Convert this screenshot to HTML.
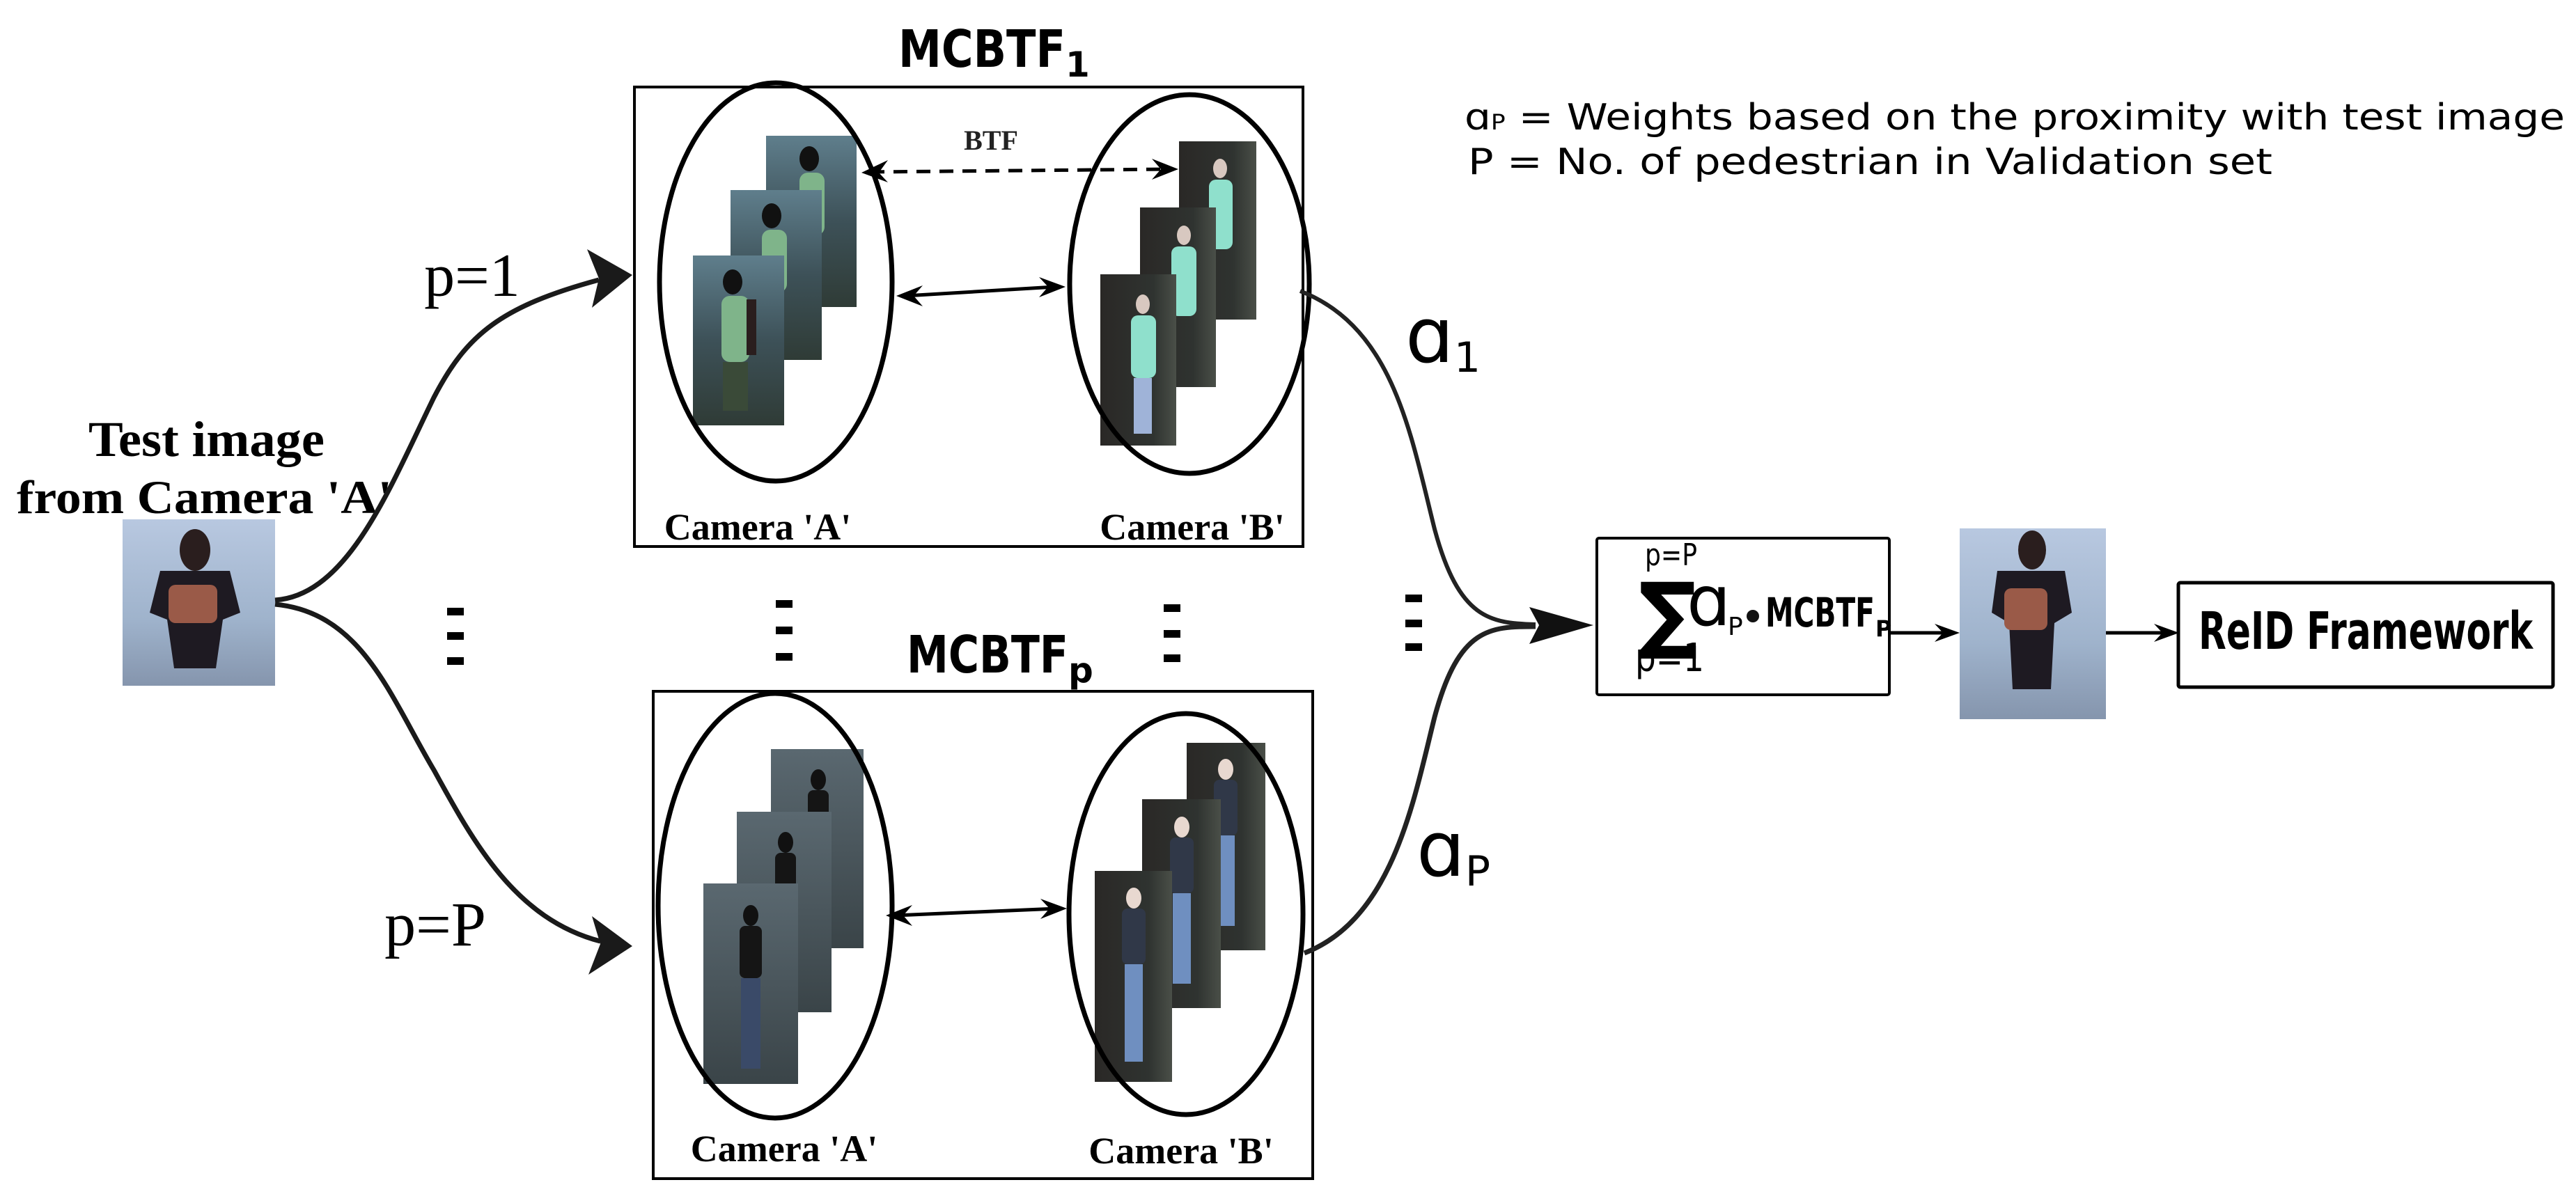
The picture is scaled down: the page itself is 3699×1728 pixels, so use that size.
<!DOCTYPE html>
<html><head><meta charset="utf-8"><style>
html,body{margin:0;padding:0;background:#fff;}
svg{display:block;}
.serif{font-family:"Liberation Serif",serif;font-weight:bold;}
.sans{font-family:"DejaVu Sans","Liberation Sans",sans-serif;}
</style></head><body>
<svg width="3699" height="1728" viewBox="0 0 3699 1728" xmlns="http://www.w3.org/2000/svg">
<defs>
<linearGradient id="gA" x1="0" y1="0" x2="0" y2="1"><stop offset="0" stop-color="#5f7e8c"/><stop offset="0.5" stop-color="#3d5158"/><stop offset="1" stop-color="#2f3b36"/></linearGradient>
<linearGradient id="gB" x1="0" y1="0" x2="1" y2="0"><stop offset="0" stop-color="#2a2826"/><stop offset="0.7" stop-color="#2f3330"/><stop offset="1" stop-color="#4a4f48"/></linearGradient>
<linearGradient id="gA2" x1="0" y1="0" x2="0" y2="1"><stop offset="0" stop-color="#5a6870"/><stop offset="1" stop-color="#3a4448"/></linearGradient>
<linearGradient id="gT" x1="0" y1="0" x2="0" y2="1"><stop offset="0" stop-color="#b8c8e0"/><stop offset="0.6" stop-color="#9fb3cc"/><stop offset="1" stop-color="#8595ad"/></linearGradient>
</defs>

<!-- Titles -->
<text x="1290" y="96" class="sans" font-weight="bold" font-size="74"><tspan textLength="240" lengthAdjust="spacingAndGlyphs">MCBTF</tspan><tspan font-size="50" dy="14">1</tspan></text>
<text x="1302" y="966" class="sans" font-weight="bold" font-size="74"><tspan textLength="232" lengthAdjust="spacingAndGlyphs">MCBTF</tspan><tspan font-size="50" dy="14">p</tspan></text>

<!-- Top box -->
<rect x="911" y="125" width="960" height="660" fill="none" stroke="#000" stroke-width="4"/>
<g>
<rect x="1100" y="195" width="130" height="246" fill="url(#gA)"/>
<ellipse cx="1162" cy="228" rx="14" ry="18" fill="#111"/><rect x="1148" y="248" width="36" height="90" rx="12" fill="#7fb48a"/>
<rect x="1049" y="273" width="131" height="244" fill="url(#gA)"/>
<ellipse cx="1108" cy="310" rx="14" ry="18" fill="#111"/><rect x="1094" y="330" width="36" height="90" rx="12" fill="#7fb48a"/>
<rect x="995" y="367" width="131" height="244" fill="url(#gA)"/>
<ellipse cx="1052" cy="405" rx="14" ry="18" fill="#111"/><rect x="1036" y="425" width="40" height="95" rx="12" fill="#7fb48a"/><rect x="1038" y="520" width="36" height="70" fill="#3a4a38"/><rect x="1072" y="430" width="14" height="80" fill="#2a1e1e"/>
</g>
<g>
<rect x="1693" y="203" width="111" height="256" fill="url(#gB)"/>
<ellipse cx="1752" cy="242" rx="10" ry="14" fill="#d8c8c0"/><rect x="1736" y="258" width="34" height="100" rx="10" fill="#8fe0cc"/>
<rect x="1637" y="298" width="109" height="258" fill="url(#gB)"/>
<ellipse cx="1700" cy="338" rx="10" ry="14" fill="#d8c8c0"/><rect x="1682" y="354" width="36" height="100" rx="10" fill="#8fe0cc"/>
<rect x="1580" y="394" width="109" height="246" fill="url(#gB)"/>
<ellipse cx="1641" cy="437" rx="10" ry="14" fill="#d8c8c0"/><rect x="1624" y="453" width="36" height="90" rx="10" fill="#8fe0cc"/><rect x="1628" y="543" width="26" height="80" fill="#9fb3d8"/>
</g>
<ellipse cx="1114" cy="405" rx="167" ry="286" fill="none" stroke="#000" stroke-width="7"/>
<ellipse cx="1708" cy="408" rx="172" ry="272" fill="none" stroke="#000" stroke-width="7"/>
<text x="1423" y="215" class="serif" font-size="40" text-anchor="middle" fill="#222">BTF</text>
<line x1="1250" y1="247" x2="1675" y2="243" stroke="#000" stroke-width="5" stroke-dasharray="20,13"/>
<path d="M1237,248 L1275,230 L1262,248 L1275,262 z" fill="#000"/>
<path d="M1692,243 L1654,228 L1667,243 L1654,258 z" fill="#000"/>
<line x1="1300" y1="425" x2="1515" y2="412" stroke="#000" stroke-width="5"/>
<path d="M1287,425 L1325,410 L1312,425 L1325,440 z" fill="#000"/>
<path d="M1530,412 L1492,398 L1505,412 L1492,427 z" fill="#000"/>
<text x="1088" y="775" class="serif" font-size="54" text-anchor="middle">Camera 'A'</text>
<text x="1712" y="775" class="serif" font-size="54" text-anchor="middle">Camera 'B'</text>

<!-- Bottom box -->
<rect x="938" y="993" width="947" height="700" fill="none" stroke="#000" stroke-width="4"/>
<g>
<rect x="1107" y="1076" width="133" height="286" fill="url(#gA2)"/>
<ellipse cx="1175" cy="1120" rx="11" ry="15" fill="#111"/><rect x="1160" y="1135" width="30" height="70" rx="8" fill="#151515"/>
<rect x="1058" y="1166" width="136" height="288" fill="url(#gA2)"/>
<ellipse cx="1128" cy="1210" rx="11" ry="15" fill="#111"/><rect x="1113" y="1225" width="30" height="70" rx="8" fill="#151515"/>
<rect x="1010" y="1269" width="136" height="288" fill="url(#gA2)"/>
<ellipse cx="1078" cy="1315" rx="11" ry="15" fill="#111"/><rect x="1062" y="1330" width="32" height="75" rx="8" fill="#151515"/><rect x="1064" y="1405" width="28" height="130" fill="#3a4a68"/>
</g>
<g>
<rect x="1704" y="1067" width="113" height="298" fill="url(#gB)"/>
<ellipse cx="1760" cy="1105" rx="11" ry="15" fill="#e8d8d0"/><rect x="1743" y="1120" width="34" height="80" rx="8" fill="#303848"/><rect x="1747" y="1200" width="26" height="130" fill="#6f8fc0"/>
<rect x="1640" y="1148" width="113" height="300" fill="url(#gB)"/>
<ellipse cx="1697" cy="1188" rx="11" ry="15" fill="#e8d8d0"/><rect x="1680" y="1203" width="34" height="80" rx="8" fill="#303848"/><rect x="1684" y="1283" width="26" height="130" fill="#6f8fc0"/>
<rect x="1572" y="1251" width="111" height="303" fill="url(#gB)"/>
<ellipse cx="1628" cy="1290" rx="11" ry="15" fill="#e8d8d0"/><rect x="1611" y="1305" width="34" height="80" rx="8" fill="#303848"/><rect x="1615" y="1385" width="26" height="140" fill="#6f8fc0"/>
</g>
<ellipse cx="1113" cy="1301" rx="168" ry="305" fill="none" stroke="#000" stroke-width="7"/>
<ellipse cx="1703" cy="1313" rx="168" ry="288" fill="none" stroke="#000" stroke-width="7"/>
<line x1="1285" y1="1315" x2="1518" y2="1305" stroke="#000" stroke-width="5"/>
<path d="M1272,1315 L1310,1300 L1297,1315 L1310,1330 z" fill="#000"/>
<path d="M1532,1305 L1494,1291 L1507,1305 L1494,1320 z" fill="#000"/>
<text x="1126" y="1668" class="serif" font-size="54" text-anchor="middle">Camera 'A'</text>
<text x="1696" y="1671" class="serif" font-size="54" text-anchor="middle">Camera 'B'</text>

<!-- Vertical dots -->
<g fill="#000">
<rect x="642" y="873" width="24" height="11"/><rect x="642" y="908" width="24" height="11"/><rect x="642" y="944" width="24" height="11"/>
<rect x="1114" y="862" width="24" height="11"/><rect x="1114" y="900" width="24" height="11"/><rect x="1114" y="938" width="24" height="11"/>
<rect x="1671" y="868" width="24" height="11"/><rect x="1671" y="905" width="24" height="11"/><rect x="1671" y="940" width="24" height="11"/>
<rect x="2018" y="854" width="24" height="11"/><rect x="2018" y="890" width="24" height="11"/><rect x="2018" y="924" width="24" height="11"/>
</g>

<!-- Test image -->
<text x="127" y="655" class="serif" font-size="72" textLength="339" lengthAdjust="spacingAndGlyphs">Test image</text>
<text x="24" y="737" class="serif" font-size="68" textLength="539" lengthAdjust="spacingAndGlyphs">from Camera 'A'</text>
<g>
<rect x="176" y="746" width="219" height="239" fill="url(#gT)"/>
<ellipse cx="280" cy="790" rx="22" ry="30" fill="#2a1e1e"/>
<path d="M230,820 L330,820 L345,880 L320,890 L310,960 L250,960 L240,890 L215,880 z" fill="#1e1a22"/>
<rect x="242" y="840" width="70" height="55" rx="10" fill="#9a5a48"/>
</g>

<!-- Left curves -->
<path d="M395,862 C500,855 560,700 623,571 C670,480 720,440 860,402" fill="none" stroke="#1a1a1a" stroke-width="7"/>
<path d="M908,395 L843,358 L860,400 L850,442 z" fill="#1a1a1a"/>
<path d="M395,868 C520,880 560,1000 623,1106 C680,1210 740,1320 862,1352" fill="none" stroke="#1a1a1a" stroke-width="7"/>
<path d="M908,1359 L850,1316 L862,1356 L845,1400 z" fill="#1a1a1a"/>
<text x="678" y="425" font-family="Liberation Serif,serif" font-size="88" text-anchor="middle">p=1</text>
<text x="625" y="1358" font-family="Liberation Serif,serif" font-size="90" text-anchor="middle">p=P</text>

<!-- Right curves -->
<path d="M1867,418 C2000,470 2025,620 2060,760 C2095,890 2140,895 2205,897" fill="none" stroke="#222" stroke-width="6"/>
<path d="M1873,1369 C2000,1320 2030,1150 2060,1030 C2095,900 2140,900 2205,900" fill="none" stroke="#222" stroke-width="7"/>
<path d="M2288,898 L2196,872 L2210,898 L2196,925 z" fill="#111"/>
<text x="2018" y="520" class="sans" font-size="110">ɑ<tspan font-size="60" dy="14">1</tspan></text>
<text x="2034" y="1258" class="sans" font-size="110">ɑ<tspan font-size="60" dy="14">P</tspan></text>

<!-- Legend -->
<text x="2103" y="186" class="sans" font-size="52" textLength="1580" lengthAdjust="spacingAndGlyphs">ɑ<tspan font-size="30">P</tspan> =  Weights based on the proximity with test image</text>
<text x="2108" y="250" class="sans" font-size="52" textLength="1155" lengthAdjust="spacingAndGlyphs">P  =  No. of pedestrian in Validation set</text>

<!-- Sum box -->
<rect x="2293" y="773" width="420" height="225" fill="none" stroke="#000" stroke-width="4" rx="3"/>
<text x="2362" y="812" class="sans" font-size="44" textLength="75" lengthAdjust="spacingAndGlyphs">p=P</text>
<text x="2348" y="964" class="sans" font-size="56" textLength="99" lengthAdjust="spacingAndGlyphs">p=1</text>
<text x="2354" y="922" class="sans" font-size="118" font-weight="bold" textLength="82" lengthAdjust="spacingAndGlyphs" stroke="#000" stroke-width="3">∑</text>
<text x="2422" y="898" class="sans" font-size="100">ɑ</text>
<text x="2481" y="912" class="sans" font-size="36">P</text>
<circle cx="2517" cy="885" r="9" fill="#111"/>
<text x="2535" y="900" class="sans" font-size="58" font-weight="bold" textLength="157" lengthAdjust="spacingAndGlyphs">MCBTF</text>
<text x="2693" y="914" class="sans" font-size="32" font-weight="bold">P</text>
<line x1="2711" y1="909" x2="2800" y2="909" stroke="#000" stroke-width="5"/>
<path d="M2814,909 L2778,896 L2790,909 L2778,922 z" fill="#000"/>

<!-- Output image -->
<g>
<rect x="2814" y="759" width="210" height="274" fill="url(#gT)"/>
<ellipse cx="2918" cy="790" rx="20" ry="28" fill="#2a1e1e"/>
<path d="M2868,820 L2965,820 L2975,880 L2950,895 L2945,990 L2890,990 L2885,895 L2860,880 z" fill="#1e1a22"/>
<rect x="2878" y="845" width="62" height="60" rx="10" fill="#9a5a48"/>
</g>
<line x1="3024" y1="909" x2="3115" y2="909" stroke="#000" stroke-width="5"/>
<path d="M3129,909 L3093,896 L3105,909 L3093,922 z" fill="#000"/>

<!-- ReID box -->
<rect x="3128" y="837" width="538" height="150" fill="none" stroke="#000" stroke-width="5" rx="3"/>
<text x="3397" y="932" class="sans" font-weight="bold" font-size="74" text-anchor="middle" textLength="480" lengthAdjust="spacingAndGlyphs">ReID Framework</text>
</svg>
</body></html>
